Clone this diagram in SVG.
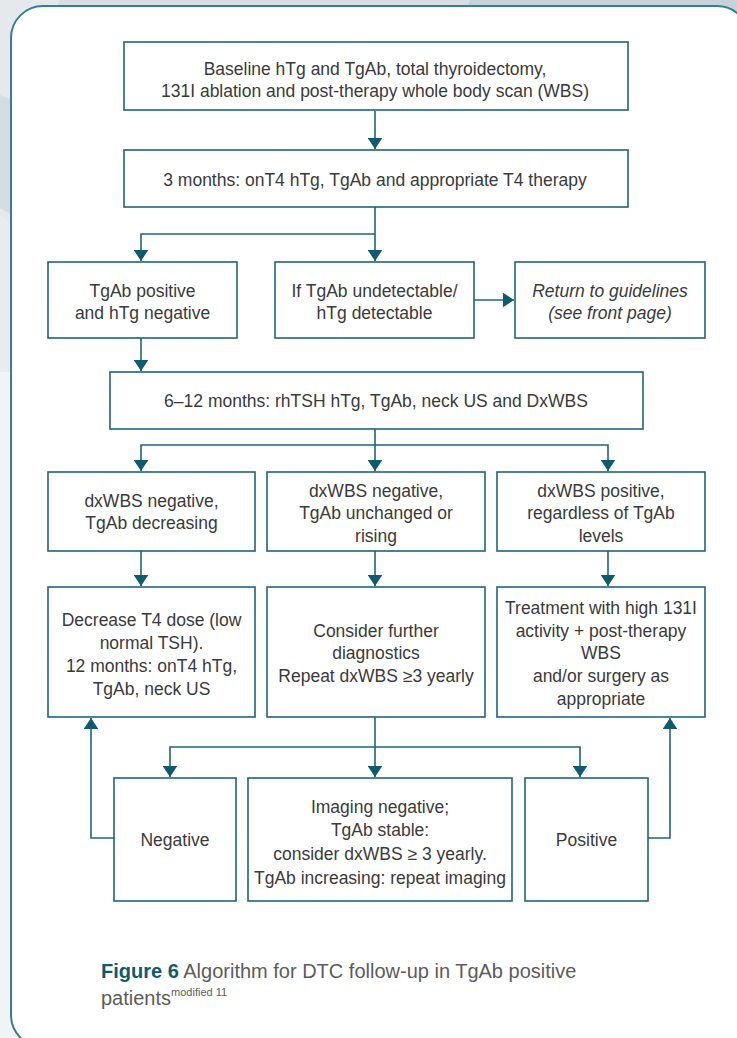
<svg xmlns="http://www.w3.org/2000/svg" width="737" height="1038" viewBox="0 0 737 1038">
<style>
.box{fill:#ffffff;stroke:#1f6579;stroke-width:1.6}
.t{font-family:"Liberation Sans",Arial,sans-serif;font-size:17.5px;fill:#3a3a3a;text-anchor:middle}
.it{font-style:italic}
.con{fill:none;stroke:#1f6579;stroke-width:1.6}
.cap{font-family:"Liberation Sans",Arial,sans-serif;font-size:20px;fill:#5c5c5c}
.capb{font-weight:bold;fill:#0f5a6f}
</style>
<defs>
<marker id="ah" viewBox="0 0 12 16" refX="12" refY="8" markerWidth="11" markerHeight="15" markerUnits="userSpaceOnUse" orient="auto">
<path d="M0,0 L12,8 L0,16 Z" fill="#0e5a6e"/>
</marker>
</defs>
<!-- background -->
<rect x="0" y="0" width="737" height="1038" fill="#f2f3f5"/>
<rect x="0" y="0" width="737" height="370" fill="#e6e9ec"/>
<polygon points="0,95 12,100 12,215 0,208" fill="#d7dce2"/>
<polygon points="0,215 12,225 12,372 0,372" fill="#e9ecef"/>
<polygon points="60,0 470,0 465,10 55,10" fill="#d8dde3"/>
<polygon points="470,0 737,0 737,12 465,12" fill="#c7d2db"/>
<!-- frame -->
<path d="M43,6 H717 A32,32 0 0 1 749,38 V1047 H43 A32,32 0 0 1 11,1015 V38 A32,32 0 0 1 43,6 Z" fill="#ffffff" stroke="#357f94" stroke-width="2"/>
<!-- connectors -->
<g id="connectors">
<path class="con" d="M375,111 V149" marker-end="url(#ah)"/>
<path class="con" d="M375,207 V261" marker-end="url(#ah)"/>
<path class="con" d="M375,234 H141 V261" marker-end="url(#ah)"/>
<path class="con" d="M474,300 H514" marker-end="url(#ah)"/>
<path class="con" d="M141,338 V371" marker-end="url(#ah)"/>
<path class="con" d="M375,429 V471" marker-end="url(#ah)"/>
<path class="con" d="M375,445 H141 V471" marker-end="url(#ah)"/>
<path class="con" d="M375,445 H608 V471" marker-end="url(#ah)"/>
<path class="con" d="M141,551 V586" marker-end="url(#ah)"/>
<path class="con" d="M375,551 V586" marker-end="url(#ah)"/>
<path class="con" d="M608,551 V586" marker-end="url(#ah)"/>
<path class="con" d="M375,717 V777" marker-end="url(#ah)"/>
<path class="con" d="M375,747 H170 V777" marker-end="url(#ah)"/>
<path class="con" d="M375,747 H580 V777" marker-end="url(#ah)"/>
<path class="con" d="M114,838 H91 V718" marker-end="url(#ah)"/>
<path class="con" d="M648,838 H670 V718" marker-end="url(#ah)"/>
</g>
<!-- nodes -->
<g id="n1">
<rect class="box" x="124" y="42" width="504" height="68"/>
<text class="t" x="375" y="75">Baseline hTg and TgAb, total thyroidectomy,</text>
<text class="t" x="375" y="97">131I ablation and post-therapy whole body scan (WBS)</text>
</g>
<g id="n2">
<rect class="box" x="124" y="150" width="504" height="57"/>
<text class="t" x="375" y="186">3 months: onT4 hTg, TgAb and appropriate T4 therapy</text>
</g>
<g id="n3">
<rect class="box" x="48" y="262" width="189" height="76"/>
<text class="t" x="142.5" y="297">TgAb positive</text>
<text class="t" x="142.5" y="319">and hTg negative</text>
</g>
<g id="n4">
<rect class="box" x="275" y="262" width="199" height="76"/>
<text class="t" x="374.5" y="297">If TgAb undetectable/</text>
<text class="t" x="374.5" y="319">hTg detectable</text>
</g>
<g id="n5">
<rect class="box" x="515" y="262" width="190" height="76"/>
<text class="t it" x="610" y="297">Return to guidelines</text>
<text class="t it" x="610" y="319">(see front page)</text>
</g>
<g id="n6">
<rect class="box" x="110" y="372" width="533" height="57"/>
<text class="t" x="376" y="407">6–12 months: rhTSH hTg, TgAb, neck US and DxWBS</text>
</g>
<g id="n7">
<rect class="box" x="48" y="472" width="207" height="79"/>
<text class="t" x="151.5" y="507">dxWBS negative,</text>
<text class="t" x="151.5" y="529">TgAb decreasing</text>
</g>
<g id="n8">
<rect class="box" x="267" y="472" width="218" height="79"/>
<text class="t" x="376" y="497">dxWBS negative,</text>
<text class="t" x="376" y="519">TgAb unchanged or</text>
<text class="t" x="376" y="542">rising</text>
</g>
<g id="n9">
<rect class="box" x="497" y="472" width="208" height="79"/>
<text class="t" x="601" y="497">dxWBS positive,</text>
<text class="t" x="601" y="519">regardless of TgAb</text>
<text class="t" x="601" y="542">levels</text>
</g>
<g id="n10">
<rect class="box" x="48" y="587" width="207" height="130"/>
<text class="t" x="151.5" y="626">Decrease T4 dose (low</text>
<text class="t" x="151.5" y="649">normal TSH).</text>
<text class="t" x="151.5" y="672">12 months: onT4 hTg,</text>
<text class="t" x="151.5" y="695">TgAb, neck US</text>
</g>
<g id="n11">
<rect class="box" x="267" y="587" width="218" height="130"/>
<text class="t" x="376" y="637">Consider further</text>
<text class="t" x="376" y="659">diagnostics</text>
<text class="t" x="376" y="682">Repeat dxWBS ≥3 yearly</text>
</g>
<g id="n12">
<rect class="box" x="497" y="587" width="208" height="130"/>
<text class="t" x="601" y="614">Treatment with high 131I</text>
<text class="t" x="601" y="637">activity + post-therapy</text>
<text class="t" x="601" y="659">WBS</text>
<text class="t" x="601" y="682">and/or surgery as</text>
<text class="t" x="601" y="705">appropriate</text>
</g>
<g id="n13">
<rect class="box" x="114" y="778" width="122" height="123"/>
<text class="t" x="175" y="846">Negative</text>
</g>
<g id="n14">
<rect class="box" x="248" y="778" width="264" height="123"/>
<text class="t" x="380" y="813">Imaging negative;</text>
<text class="t" x="380" y="836">TgAb stable:</text>
<text class="t" x="380" y="860">consider dxWBS ≥ 3 yearly.</text>
<text class="t" x="380" y="884">TgAb increasing: repeat imaging</text>
</g>
<g id="n15">
<rect class="box" x="525" y="778" width="123" height="123"/>
<text class="t" x="586.5" y="846">Positive</text>
</g>
<!-- caption -->
<text class="cap" x="101" y="978"><tspan class="capb">Figure 6</tspan>  Algorithm for DTC follow-up in TgAb positive</text>
<text class="cap" x="101" y="1005">patients<tspan font-size="11" dy="-9">modified 11</tspan></text>
</svg>
